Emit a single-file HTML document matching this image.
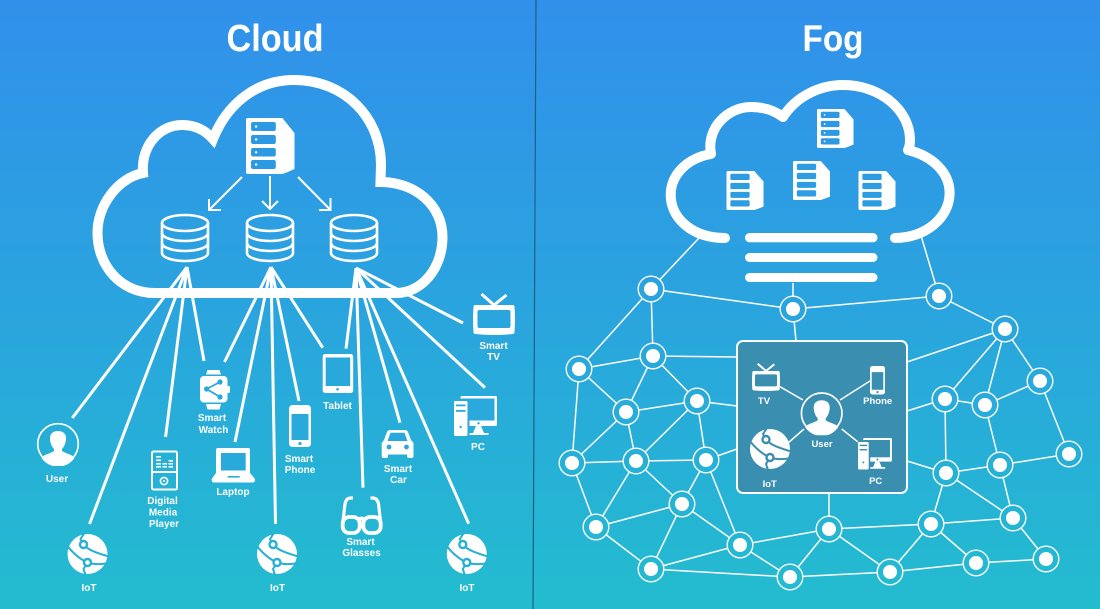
<!DOCTYPE html>
<html>
<head>
<meta charset="utf-8">
<style>
html,body{margin:0;padding:0;background:#2aa3de}
svg{display:block}
text{font-family:"Liberation Sans",sans-serif;font-weight:700;fill:#fff;text-anchor:middle}
.l text{font-size:10px}
.s text{font-size:9.5px}
</style>
</head>
<body>
<svg width="1100" height="609" viewBox="0 0 1100 609" xmlns="http://www.w3.org/2000/svg">
<defs>
<linearGradient id="bg" gradientUnits="userSpaceOnUse" x1="0" y1="0" x2="0" y2="609">
<stop offset="0" stop-color="#3190eb"/>
<stop offset="0.5" stop-color="#2aa4de"/>
<stop offset="1" stop-color="#23bccf"/>
</linearGradient>
<symbol id="server" viewBox="0 0 48 56" preserveAspectRatio="none">
<path d="M2 0H36L48 15V51Q42 54 36 56H2Q0 56 0 54V2Q0 0 2 0Z" fill="#fff"/>
<g fill="currentColor">
<rect x="5" y="4" width="24.5" height="9" rx="2"/>
<rect x="5" y="17" width="24.5" height="9" rx="2"/>
<rect x="5" y="30" width="24.5" height="8.5" rx="2"/>
<rect x="5" y="42" width="24.5" height="9" rx="2"/>
</g>
<g fill="#fff"><circle cx="10" cy="8.5" r="1.2"/><circle cx="10" cy="21.5" r="1.2"/><circle cx="10" cy="34.3" r="1.2"/><circle cx="10" cy="46.5" r="1.2"/></g>
</symbol>
<symbol id="server2" viewBox="0 0 48 56" preserveAspectRatio="none">
<path d="M2 0H36L48 15V51Q42 54 36 56H2Q0 56 0 54V2Q0 0 2 0Z" fill="#fff"/>
<g fill="currentColor">
<rect x="5" y="4" width="25" height="9" rx="2"/>
<rect x="5" y="17" width="25" height="9" rx="2"/>
<rect x="5" y="30" width="25" height="8.500" rx="2"/>
<rect x="5" y="42" width="25" height="9" rx="2"/>
</g>
</symbol>
<symbol id="db" viewBox="0 0 50 50">
<g fill="none" stroke="#fff" stroke-width="2.6">
<ellipse cx="25" cy="10" rx="23" ry="8"/>
<path d="M2 10V40A23 8 0 0 0 48 40V10"/>
<path d="M2 20A23 8 0 0 0 48 20"/>
<path d="M2 30A23 8 0 0 0 48 30"/>
</g>
</symbol>
<symbol id="user" viewBox="-22 -22 44 44">
<circle r="20.3" fill="none" stroke="#fff" stroke-width="1.7"/>
<path fill="#fff" d="M-8 -6C-8 -11 -4 -13 0 -13C4 -13 8 -11 8 -6C8 -1 6 3 4 5L4 7C8 10 14 10 16.5 14A20 20 0 0 1 -16.5 14C-14 10 -8 10 -4 7L-4 5C-6 3 -8 -1 -8 -6Z"/>
</symbol>
<symbol id="iot" viewBox="-21 -21 42 42">
<circle r="20" fill="#fff"/>
<g fill="none" stroke="currentColor" stroke-width="2">
<path d="M-4 -9.500C0 -4 10 -1 21 2.500"/>
<path d="M-4 -9.500L-7 -15L-3 -21"/>
<path d="M0 8.500C-6 6 -14 0 -20 -8"/>
<path d="M0 8.500C6 10.500 14 10.500 21 9"/>
<path d="M0 8.500L-4 15L-2 21"/>
</g>
<circle cx="-4" cy="-9.500" r="4.700" fill="currentColor"/><circle cx="-4" cy="-9.500" r="2.300" fill="#fff"/>
<circle cx="0" cy="8.500" r="4.700" fill="currentColor"/><circle cx="0" cy="8.500" r="2.300" fill="#fff"/>
</symbol>
<symbol id="tv" viewBox="0 0 43 42">
<path d="M9 1L21.5 12L34 2" fill="none" stroke="#fff" stroke-width="3"/>
<path d="M3 12H40Q42 12 42 14Q43 26 42 39Q42 41 40 41Q21 43 3 41Q1 41 1 39Q0 26 1 14Q1 12 3 12Z" fill="#fff"/>
<path d="M7 17H36Q38 17 38 19V33Q38 35 36 35H7Q5 35 5 33V19Q5 17 7 17Z" fill="currentColor"/>
</symbol>
<symbol id="phone" viewBox="0 0 22 42">
<rect width="22" height="42" rx="3.5" fill="#fff"/>
<rect x="2.5" y="9" width="17" height="26" fill="currentColor"/>
<circle cx="11" cy="38.5" r="1.6" fill="currentColor"/>
</symbol>
<symbol id="pc" viewBox="0 0 43 40">
<rect x="6.5" y="0" width="36.5" height="30" rx="1.5" fill="#fff"/>
<rect x="6.5" y="2.5" width="34" height="22" fill="currentColor"/>
<path d="M22 30H27L30 37H34.5V39H15V37H19Z" fill="#fff"/>
<circle cx="24.5" cy="27.3" r="1.2" fill="currentColor"/>
<rect x="0" y="3" width="15.5" height="37" fill="currentColor"/>
<rect x="0" y="5" width="13.5" height="35" rx="1.5" fill="#fff"/>
<rect x="2" y="8.5" width="9.5" height="1.8" fill="currentColor"/>
<rect x="2" y="14" width="9.5" height="1.8" fill="currentColor"/>
<circle cx="6.7" cy="31" r="1.2" fill="currentColor"/>
</symbol>
</defs>

<rect width="1100" height="609" fill="url(#bg)"/>
<path d="M536 0L533 609" stroke="#1d5f86" stroke-width="1.2"/>

<!-- Titles -->
<text x="275" y="51" font-size="38" textLength="97" lengthAdjust="spacingAndGlyphs">Cloud</text>
<text x="833" y="51" font-size="37" textLength="61" lengthAdjust="spacingAndGlyphs">Fog</text>

<!-- Left fan lines -->
<g stroke="#fff" stroke-width="3" fill="none">
<path d="M187 267L72.3 418M187 267L89.5 524M187 267L165.6 437M187 267L204 361"/>
<path d="M271 267L224.5 362M271 267L235 442M271 267L275.5 524M271 267L299 401M271 267L322.7 347.7"/>
<path d="M356 268L346 348.7M356 268L363 487.7M356 268L400 422.7M356 268L468.7 523.7M356 268L485 387.7M356 268L463 323"/>
</g>

<!-- Left cloud -->
<path d="M155 293C120 293 97.5 265 97.5 233C97.5 205 118 178 143 173C141 145 160 125 182 125C195 125 205 130 213 139C228 102 258 80 294 80C345 80 381 118 381 165L380.5 182C415 182 442.5 205 442.5 237C442.5 268 422 293 396 293Z" fill="none" stroke="#fff" stroke-width="10" stroke-miterlimit="6"/>

<use href="#server" x="246" y="118" width="48.5" height="56" color="#2b9ae2"/>
<g stroke="#fff" stroke-width="2" fill="none">
<path d="M242 177L209 210M209 199V210H221"/>
<path d="M270 176V209M262 201L270 209L278 201"/>
<path d="M298 177L330.5 210M330.5 198V210H319"/>
</g>
<use href="#db" x="160" y="213" width="50" height="50"/>
<use href="#db" x="245" y="213" width="50" height="50"/>
<use href="#db" x="329" y="213" width="50" height="50"/>

<!-- Left icons -->
<use href="#user" x="36" y="422" width="44" height="44"/>
<use href="#iot" x="66.500" y="533" width="42" height="42" color="#27b0d6"/>
<use href="#iot" x="256" y="533" width="42" height="42" color="#27b0d6"/>
<use href="#iot" x="445.800" y="533" width="42" height="42" color="#27b0d6"/>
<use href="#tv" x="472.500" y="293" width="43" height="42" color="#2aa5dd"/>
<use href="#phone" x="289" y="405" width="22" height="42" color="#29aadb"/>
<use href="#pc" x="454" y="396" width="43" height="40" color="#29a9dc"/>

<!-- Tablet -->
<rect x="322.700" y="354" width="30.500" height="39" rx="2.500" fill="#fff"/>
<rect x="325.700" y="357.500" width="24.500" height="28.500" fill="#29a8dc"/>
<circle cx="337.500" cy="389.300" r="1.300" fill="#29a8dc"/>

<!-- Watch -->
<g fill="#fff">
<path d="M207.500 370H219.500L221 374.500H206Z"/>
<path d="M206 404H221L219.500 409.500H207.500Z"/>
<rect x="200" y="376" width="27.500" height="26.500" rx="4"/>
<rect x="227" y="386" width="3" height="7" rx="1.200"/>
</g>
<g fill="#29a8dc" stroke="#29a8dc">
<path d="M220 382L206.600 389L220 397" fill="none" stroke-width="1.800"/>
<circle cx="206.600" cy="389" r="2.600" stroke="none"/>
<circle cx="220" cy="382" r="2.600" stroke="none"/>
<circle cx="220" cy="397" r="2.600" stroke="none"/>
</g>

<!-- Media player -->
<rect x="152" y="451.500" width="25" height="38" rx="1.500" fill="none" stroke="#fff" stroke-width="2"/>
<rect x="151" y="471" width="27" height="2" fill="#fff"/>
<circle cx="164" cy="481" r="3.600" fill="none" stroke="#fff" stroke-width="1.600"/>
<circle cx="164" cy="481" r="1" fill="#fff"/>
<g fill="#fff">
<rect x="156" y="456" width="5" height="1.600"/><rect x="156" y="459.500" width="5" height="1.600"/><rect x="156" y="463" width="5" height="1.600"/><rect x="156" y="466" width="5" height="1.600"/>
<rect x="162.500" y="463" width="4.500" height="1.600"/><rect x="162.500" y="466" width="4.500" height="1.600"/>
<rect x="168.500" y="460" width="4.500" height="1.600"/><rect x="168.500" y="463" width="4.500" height="1.600"/><rect x="168.500" y="466" width="4.500" height="1.600"/>
</g>

<!-- Laptop -->
<path d="M218 448H248Q250 448 250 450V473L255 479V480Q255 482.500 252.500 482.500H214Q211.700 482.500 211.700 480V479L216 473V450Q216 448 218 448Z" fill="#fff"/>
<rect x="221" y="453" width="24.700" height="17.500" fill="#29aada"/>
<rect x="227.700" y="476" width="12" height="1.600" fill="#29aada"/>

<!-- Car -->
<path d="M390 430H405Q407 430 408 432L411 440L413.500 443V456Q413.500 458 411.500 458H409Q407 458 407 456V454.500H388V456Q388 458 386 458H383.500Q381.700 458 381.700 456V443L384 440L387 432Q388 430 390 430Z" fill="#fff"/>
<path d="M390.500 432.700H404.500L407.500 441H387.500Z" fill="#29a9db"/>
<circle cx="389" cy="447" r="2.400" fill="#29a9db"/>
<circle cx="406.500" cy="447" r="2.400" fill="#29a9db"/>

<!-- Glasses -->
<g fill="none" stroke="#fff" stroke-width="3.800">
<rect x="342.700" y="517" width="17" height="16" rx="6.500"/>
<rect x="363.400" y="517" width="17.300" height="16" rx="6.500"/>
<path d="M359 519.500Q361.500 517.500 364 519.500"/>
<path d="M343 521L345 504Q346 498 351 498L353 498" stroke-width="3.200"/>
<path d="M380.500 521L378.500 504Q377.500 498 372.500 498L370.500 498" stroke-width="3.200"/>
</g>

<!-- Left labels -->
<g class="l">
<text x="57" y="482">User</text>
<text x="89" y="591">IoT</text>
<text x="162.500" y="504">Digital</text>
<text x="163" y="515.500">Media</text>
<text x="164" y="527">Player</text>
<text x="212" y="421">Smart</text>
<text x="213.500" y="433">Watch</text>
<text x="233" y="495">Laptop</text>
<text x="299" y="462">Smart</text>
<text x="300" y="473">Phone</text>
<text x="277.500" y="591">IoT</text>
<text x="337.500" y="409">Tablet</text>
<text x="398" y="472">Smart</text>
<text x="398.500" y="483">Car</text>
<text x="360.500" y="545">Smart</text>
<text x="361.500" y="556">Glasses</text>
<text x="467" y="591">IoT</text>
<text x="478" y="450">PC</text>
<text x="493.500" y="349">Smart</text>
<text x="493.500" y="360">TV</text>
</g>

<!-- Fog cloud -->
<path d="M725 238C692 238 670.700 218 670.700 195C670.700 174 688 158 711 154C706 128 728 107 751 107C764 107 775 111 783 117C795 98 818 85 843 85C880 85 910 110 910 140Q910 146 908 150C932 156 949.600 172 949.600 193C949.600 218 925 238 895 238" fill="none" stroke="#fff" stroke-width="10" stroke-linecap="round" stroke-linejoin="round"/>
<g fill="#fff">
<rect x="745" y="233" width="132.500" height="9.300" rx="4.600"/>
<rect x="745" y="253" width="132.500" height="9" rx="4.500"/>
<rect x="745" y="273" width="132.500" height="9" rx="4.500"/>
</g>
<use href="#server" x="817" y="109" width="36.600" height="39" color="#2d98e4"/>
<use href="#server2" x="793" y="161" width="37" height="39" color="#2d9ce2"/>
<use href="#server2" x="726.500" y="171" width="37" height="39" color="#2d9de1"/>
<use href="#server2" x="858.500" y="171" width="37" height="39" color="#2d9de1"/>

<!-- Fog edges -->
<g stroke="#fff" stroke-width="1.500" fill="none">
<path d="M699 238L651 289M921.400 237L939 296M793 283V309"/>
<path d="M651 289L793 309L939 296L1005 329"/>
<path d="M651 289L579 369M651 289L653 356M793 309L796 341"/>
<path d="M653 356L579 369M653 356L737 357M653 356L626 412M653 356L697 401"/>
<path d="M579 369L626 412M579 369L572 463M626 412L697 401M626 412L572 463M626 412L636 461"/>
<path d="M697 401L737 406M697 401L636 461M697 401L706 460"/>
<path d="M572 463L636 461L706 460L737 449"/>
<path d="M572 463L596 527M636 461L596 527M636 461L682 504M706 460L682 504M706 460L740 545"/>
<path d="M682 504L596 527M682 504L651 569M682 504L740 545M596 527L651 569"/>
<path d="M651 569L740 545M651 569L790 577M740 545L790 577M740 545L829 529M790 577L829 529"/>
<path d="M829 529L931 524M829 529L890 572M829 529V493M790 577L890 572"/>
<path d="M890 572L931 524M890 572L976 563M931 524L976 563M931 524L1013 518M931 524L946 473"/>
<path d="M976 563L1046 559M1013 518L1046 559M1013 518L946 473M1013 518L1000 465"/>
<path d="M946 473L1000 465M946 473L945 399M946 473L907 461M945 399L907 411M945 399L985 405"/>
<path d="M945 399L1005 329M985 405L1005 329M985 405L1040 381M985 405L1000 465M1005 329L1040 381M1005 329L907 362"/>
<path d="M1040 381L1069 454M1069 454L1000 465"/>
</g>

<!-- Fog box -->
<rect x="737" y="341" width="170" height="152" rx="6" fill="#3a8fb1" stroke="#fff" stroke-width="2"/>
<g stroke="#fff" stroke-width="1.500" fill="none">
<path d="M780 386.700L803 400M870 381L840 400M788 443L804 429M841.700 429L858 442"/>
</g>
<use href="#user" x="799.700" y="391.300" width="44" height="44"/>
<use href="#iot" x="749" y="428" width="42" height="42" color="#3a8fb1"/>
<use href="#tv" x="751.500" y="363" width="29" height="28" color="#3a8fb1"/>
<use href="#phone" x="870" y="366" width="15" height="28.500" color="#3a8fb1"/>
<use href="#pc" x="858" y="438" width="34" height="31.500" color="#3a8fb1"/>
<g class="s">
<text x="764" y="404">TV</text>
<text x="877.700" y="404">Phone</text>
<text x="822" y="447">User</text>
<text x="769.700" y="487">IoT</text>
<text x="875.700" y="484">PC</text>
</g>

<!-- Fog nodes -->
<g fill="url(#bg)" stroke="#fff" stroke-width="1.400">
<circle cx="651" cy="289" r="12.800"/><circle cx="793" cy="309" r="12.800"/><circle cx="939" cy="296" r="12.800"/><circle cx="1005" cy="329" r="12.800"/>
<circle cx="579" cy="369" r="12.800"/><circle cx="653" cy="356" r="12.800"/><circle cx="697" cy="401" r="12.800"/><circle cx="626" cy="412" r="12.800"/>
<circle cx="1040" cy="381" r="12.800"/><circle cx="945" cy="399" r="12.800"/><circle cx="985" cy="405" r="12.800"/><circle cx="572" cy="463" r="12.800"/>
<circle cx="636" cy="461" r="12.800"/><circle cx="706" cy="460" r="12.800"/><circle cx="1069" cy="454" r="12.800"/><circle cx="946" cy="473" r="12.800"/>
<circle cx="1000" cy="465" r="12.800"/><circle cx="682" cy="504" r="12.800"/><circle cx="1013" cy="518" r="12.800"/><circle cx="596" cy="527" r="12.800"/>
<circle cx="740" cy="545" r="12.800"/><circle cx="829" cy="529" r="12.800"/><circle cx="931" cy="524" r="12.800"/><circle cx="651" cy="569" r="12.800"/>
<circle cx="790" cy="577" r="12.800"/><circle cx="890" cy="572" r="12.800"/><circle cx="976" cy="563" r="12.800"/><circle cx="1046" cy="559" r="12.800"/>
</g>
<g fill="#fff">
<circle cx="651" cy="289" r="7"/><circle cx="793" cy="309" r="7"/><circle cx="939" cy="296" r="7"/><circle cx="1005" cy="329" r="7"/>
<circle cx="579" cy="369" r="7"/><circle cx="653" cy="356" r="7"/><circle cx="697" cy="401" r="7"/><circle cx="626" cy="412" r="7"/>
<circle cx="1040" cy="381" r="7"/><circle cx="945" cy="399" r="7"/><circle cx="985" cy="405" r="7"/><circle cx="572" cy="463" r="7"/>
<circle cx="636" cy="461" r="7"/><circle cx="706" cy="460" r="7"/><circle cx="1069" cy="454" r="7"/><circle cx="946" cy="473" r="7"/>
<circle cx="1000" cy="465" r="7"/><circle cx="682" cy="504" r="7"/><circle cx="1013" cy="518" r="7"/><circle cx="596" cy="527" r="7"/>
<circle cx="740" cy="545" r="7"/><circle cx="829" cy="529" r="7"/><circle cx="931" cy="524" r="7"/><circle cx="651" cy="569" r="7"/>
<circle cx="790" cy="577" r="7"/><circle cx="890" cy="572" r="7"/><circle cx="976" cy="563" r="7"/><circle cx="1046" cy="559" r="7"/>
</g>
</svg>
</body>
</html>
